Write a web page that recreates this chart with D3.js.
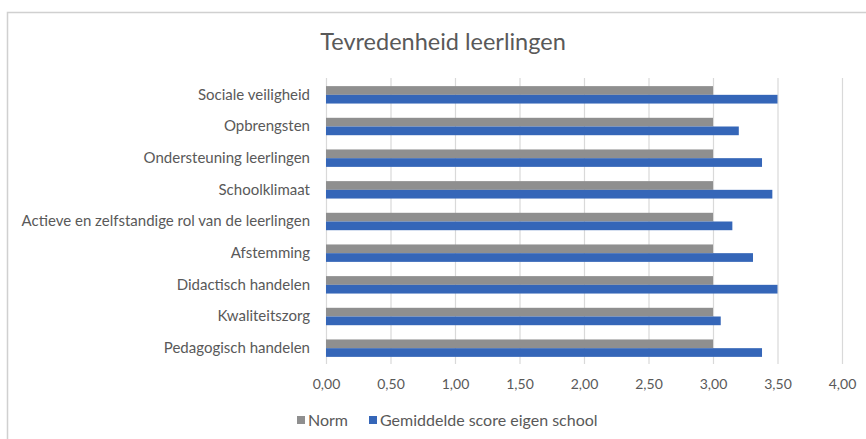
<!DOCTYPE html>
<html><head><meta charset="utf-8">
<script src="https://cdn.jsdelivr.net/npm/d3@7/dist/d3.min.js"></script>
<style>body{margin:0;background:#fff;}svg{display:block;}</style>
</head><body>
<svg id="c" width="866" height="439"></svg>
<script>
const categories = ["Sociale veiligheid","Opbrengsten","Ondersteuning leerlingen","Schoolklimaat","Actieve en zelfstandige rol van de leerlingen","Afstemming","Didactisch handelen","Kwaliteitszorg","Pedagogisch handelen"];
const normValues = [3.00,3.00,3.00,3.00,3.00,3.00,3.00,3.00,3.00];
const schoolValues = [3.50,3.20,3.38,3.46,3.15,3.31,3.50,3.06,3.38];
const seriesNames = ["Norm","Gemiddelde score eigen school"];
const tickValues = [0,0.5,1,1.5,2,2.5,3,3.5,4];
const colors = ["#8f8f8f","#3566b8"];

const svg = d3.select("#c");
const font = "Lato, 'Open Sans', sans-serif";
const textCol = "#595959";

// frame
svg.append("path").attr("d","M7.5,439 V12.5 H866").attr("fill","none").attr("stroke","#d0d0d0").attr("stroke-width",1.5);

svg.append("text").attr("x",443).attr("y",50).attr("text-anchor","middle")
  .attr("font-family",font).attr("font-size",23.5).attr("fill",textCol).text("Tevredenheid leerlingen");

const x = d3.scaleLinear().domain([0,4]).range([326,842]);
const y = d3.scaleBand().domain(categories).range([79,364]).paddingInner(0.45).paddingOuter(0.225);
const sub = d3.scaleBand().domain([0,1]).range([0,y.bandwidth()]);

// gridlines
svg.append("g").selectAll("line").data(tickValues).join("line")
  .attr("x1",d=>x(d)+0.5).attr("x2",d=>x(d)+0.5).attr("y1",78).attr("y2",364)
  .attr("stroke","#d9d9d9").attr("stroke-width",1.2);

const data = categories.map((c,i)=>({c, vals:[normValues[i],schoolValues[i]]}));
const g = svg.append("g");
data.forEach(d=>{
  d.vals.forEach((v,j)=>{
    g.append("rect").attr("x",x(0)).attr("y",y(d.c)+sub(j))
     .attr("width",x(v)-x(0)).attr("height",sub.bandwidth()).attr("fill",colors[j]);
  });
});

// y axis labels
const ya = svg.append("g").attr("transform","translate(326,0)")
  .call(d3.axisLeft(y).tickSize(0).tickPadding(16));
ya.select(".domain").remove();
ya.selectAll("text").attr("font-family",font).attr("font-size",15).attr("fill",textCol);

// x axis labels
const xa = svg.append("g").attr("transform","translate(0,364)")
  .call(d3.axisBottom(x).tickValues(tickValues).tickSize(0).tickPadding(15)
    .tickFormat(d=>d3.format(".2f")(d).replace(".",",")));
xa.select(".domain").remove();
xa.selectAll("text").attr("font-family",font).attr("font-size",14).attr("fill",textCol);

// legend
const leg = svg.append("g");
const legItems = [{n:seriesNames[0],x:297},{n:seriesNames[1],x:369}];
legItems.forEach((it,i)=>{
  leg.append("rect").attr("x",it.x).attr("y",416).attr("width",8).attr("height",8).attr("fill",colors[i]);
  leg.append("text").attr("x",it.x+11).attr("y",426).attr("font-family",font).attr("font-size",16)
    .attr("fill",textCol).text(it.n);
});
</script>
</body></html>
